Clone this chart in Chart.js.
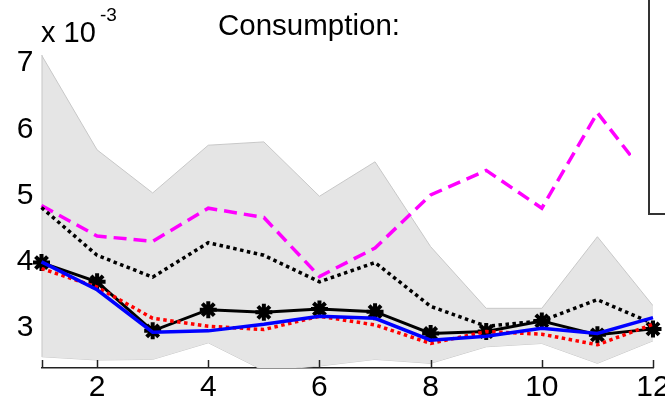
<!DOCTYPE html>
<html>
<head>
<meta charset="utf-8">
<script src="https://cdn.jsdelivr.net/npm/chart.js@4/dist/chart.umd.min.js"></script>
<style>
  body { margin: 0; background: #fff; }
  #wrap { width: 665px; height: 405px; }
</style>
</head>
<body>
<div id="wrap"><canvas id="consumptionChart" width="665" height="405"></canvas></div>
<script>
// values are in units of 1e-3
const months = [1, 2, 3, 4, 5, 6, 7, 8, 9, 10, 11, 12];
const bandUpper = [7.12, 5.69, 5.04, 5.76, 5.81, 4.99, 5.51, 4.23, 3.30, 3.30, 4.38, 3.34];
const bandLower = [2.57, 2.52, 2.53, 2.78, 2.36, 2.43, 2.53, 2.47, 2.72, 2.77, 2.47, 2.81];
const magentaDashed = [4.85, 4.39, 4.31, 4.81, 4.67, 3.78, 4.21, 5.01, 5.38, 4.81, 6.25, 5.17];
const blackDotted = [4.82, 4.10, 3.77, 4.29, 4.10, 3.70, 3.99, 3.33, 3.03, 3.11, 3.43, 3.07];
const blackStars = [3.99, 3.70, 2.96, 3.28, 3.24, 3.29, 3.25, 2.92, 2.95, 3.11, 2.90, 2.99];
const redDotted = [3.90, 3.62, 3.15, 3.03, 2.98, 3.18, 3.05, 2.77, 2.95, 2.91, 2.75, 3.06];
const blueSolid = [4.00, 3.58, 2.94, 2.96, 3.06, 3.18, 3.15, 2.82, 2.88, 3.00, 2.92, 3.16];

const xTicks = [2, 4, 6, 8, 10, 12];
const xTickMarks = [1, 2, 4, 6, 8, 10, 12];
const yTicks = [3, 4, 5, 6, 7];

const font = 'Liberation Sans, Arial, sans-serif';

function pts(values) {
  return months.map((m, i) => ({ x: m, y: values[i] }));
}

const overlay = {
  id: 'overlay',
  afterDatasetDraw(chart, args) {
    // left edge of the grey band
    if (args.index !== 5) return;
    const x = chart.scales.x, y = chart.scales.y;
    const ctx = chart.ctx;
    ctx.save();
    ctx.strokeStyle = '#c8c8c8';
    ctx.lineWidth = 1;
    ctx.beginPath();
    ctx.moveTo(x.getPixelForValue(months[0]) + 0.5, y.getPixelForValue(bandUpper[0]));
    ctx.lineTo(x.getPixelForValue(months[0]) + 0.5, y.getPixelForValue(bandLower[0]));
    ctx.stroke();
    ctx.restore();
  },
  afterDraw(chart) {
    const ctx = chart.ctx;
    const x = chart.scales.x;
    const bottom = chart.chartArea.bottom;
    ctx.save();
    // inward tick marks
    ctx.strokeStyle = '#222';
    ctx.lineWidth = 1.5;
    xTickMarks.forEach(v => {
      const px = Math.round(x.getPixelForValue(v)) + 0.5;
      ctx.beginPath();
      ctx.moveTo(px, bottom);
      ctx.lineTo(px, bottom - 8);
      ctx.stroke();
    });
    // legend box (cropped)
    ctx.fillStyle = '#fff';
    ctx.fillRect(631, 0, 34, 215);
    ctx.strokeStyle = '#333';
    ctx.lineWidth = 2;
    ctx.beginPath();
    ctx.moveTo(649, 0);
    ctx.lineTo(649, 214);
    ctx.lineTo(665, 214);
    ctx.stroke();
    // title and exponent
    ctx.fillStyle = '#000';
    ctx.textBaseline = 'alphabetic';
    ctx.font = '29.5px ' + font;
    ctx.fillText('Consumption:', 218, 35);
    ctx.font = '29px ' + font;
    ctx.fillText('x 10', 41, 42);
    ctx.font = '19px ' + font;
    ctx.fillText('-3', 100, 21);
    ctx.restore();
  }
};

new Chart(document.getElementById('consumptionChart'), {
  type: 'line',
  data: {
    datasets: [
      { data: pts(blueSolid), borderColor: '#0000ff', borderWidth: 3.5, pointRadius: 0, clip: false },
      { data: pts(redDotted), borderColor: '#ff0000', borderWidth: 3.5, borderDash: [3.5, 3.5], pointRadius: 0, clip: false },
      { data: pts(blackStars), borderColor: '#000', borderWidth: 3, pointStyle: 'star', pointRadius: 8.5,
        pointBorderWidth: 4, pointBorderColor: '#000', pointBackgroundColor: '#000', clip: false },
      { data: pts(blackDotted), borderColor: '#000', borderWidth: 3.5, borderDash: [3.5, 3.5], pointRadius: 0, clip: false },
      { data: pts(magentaDashed), borderColor: '#ff00ff', borderWidth: 3.5, borderDash: [13, 7], pointRadius: 0, clip: false },
      { data: pts(bandUpper), borderColor: '#c8c8c8', borderWidth: 1, backgroundColor: '#e5e5e5', fill: '+1', pointRadius: 0 },
      { data: pts(bandLower), borderColor: '#c8c8c8', borderWidth: 1, pointRadius: 0, fill: false }
    ]
  },
  options: {
    responsive: false,
    animation: false,
    layout: { padding: { left: 0, right: 12, top: 0, bottom: 0 }, autoPadding: false },
    elements: { line: { tension: 0 } },
    plugins: { legend: { display: false }, tooltip: { enabled: false } },
    scales: {
      x: {
        type: 'linear', min: 1, max: 12,
        afterBuildTicks: s => { s.ticks = xTicks.map(v => ({ value: v })); },
        afterFit: s => { s.height = 37; s.paddingLeft = 0; s.paddingRight = 0; },
        grid: { display: false, drawTicks: false },
        border: { display: true, color: '#222', width: 1.5 },
        ticks: { color: '#000', font: { family: font, size: 30 }, padding: 2, maxRotation: 0, autoSkip: false }
      },
      y: {
        min: 2.4, max: 7.95,
        afterBuildTicks: s => { s.ticks = yTicks.map(v => ({ value: v })); },
        afterFit: s => { s.width = 41.5; s.paddingTop = 0; s.paddingBottom = 0; },
        grid: { display: false, drawTicks: false },
        border: { display: false },
        ticks: { color: '#000', font: { family: font, size: 30 }, padding: 8 }
      }
    }
  },
  plugins: [overlay]
});
</script>
</body>
</html>
